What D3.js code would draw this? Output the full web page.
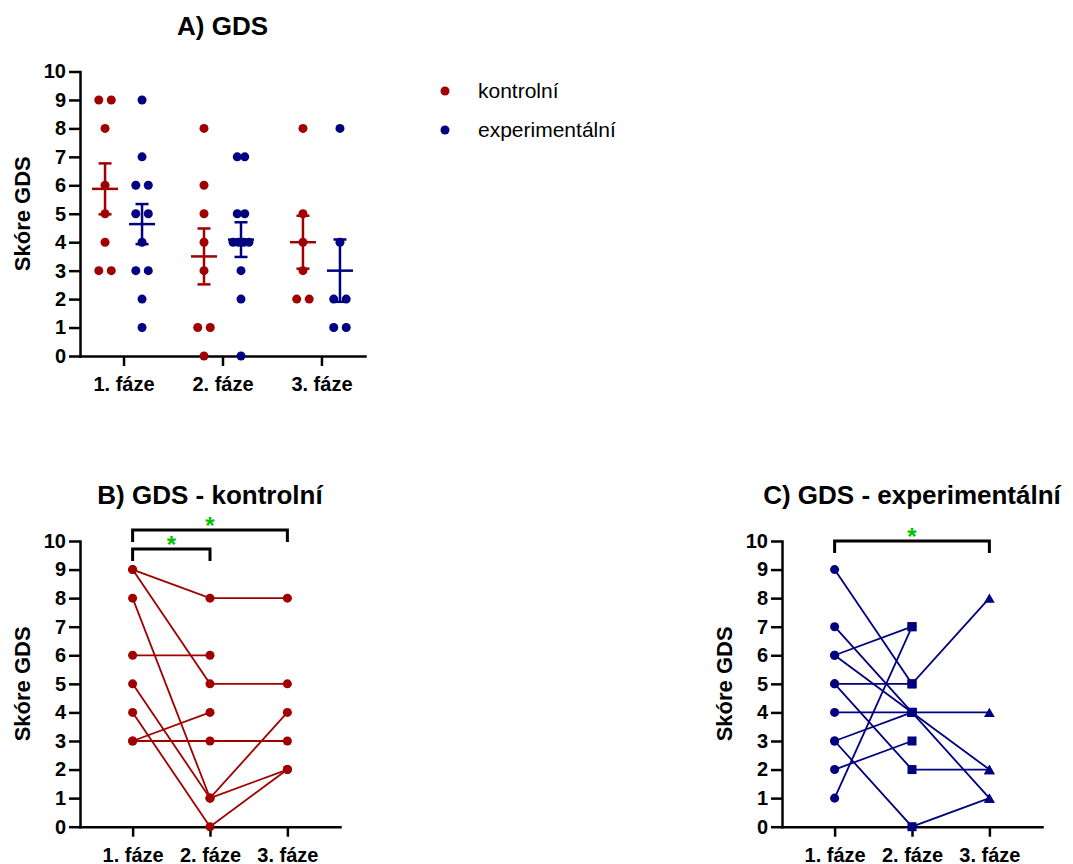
<!DOCTYPE html>
<meta charset="utf-8">
<style>
body { margin: 0; background: #fff; }
svg { font-family: "Liberation Sans", Arial, sans-serif; }
.axis text { font: bold 20px "Liberation Sans", Arial, sans-serif; fill: #000; }
.axis line, .axis path { fill: none; stroke: #000; stroke-width: 2.5; }
.axis .domain { stroke-linecap: square; }
.title { font-weight: bold; font-size: 26px; }
.ylabel { font-weight: bold; font-size: 22px; }
.legend text { font-size: 21px; }
.star { fill: #00c000; font-weight: bold; font-size: 24px; }
.bracket { fill: none; stroke: #000; stroke-width: 3; }
</style>
<body>
<script src="https://cdn.jsdelivr.net/npm/d3@7"></script>
<script>

var phases = ["1. fáze", "2. fáze", "3. fáze"];
var groups = ["kontrolní", "experimentální"];
var yTicks = [0, 1, 2, 3, 4, 5, 6, 7, 8, 9, 10];

// skóre každého účastníka ve fázi 1, 2, 3 (null = chybí)
var kontrolni = [
  [9, 8, 8], [9, 5, 5], [8, 1, 4], [6, 6, null],
  [5, 1, 2], [4, 0, 2], [3, 4, null], [3, 3, 3]
];
var experimentalni = [
  [9, 5, 8], [7, 4, 1], [6, 7, null], [6, 4, 2], [5, 5, null], [5, 2, 2],
  [4, 4, 4], [3, 4, null], [3, 0, 1], [2, 3, null], [1, 7, null]
];

// signifikantní rozdíly (index fáze od - do)
var sigKontrolni = [[0, 1], [0, 2]];
var sigExperimentalni = [[0, 2]];

var color = d3.scaleOrdinal().domain(groups).range(["#a00000", "#000080"]);
var dataByGroup = { "kontrolní": kontrolni, "experimentální": experimentalni };

var svg = d3.select("body").append("svg")
    .attr("width", 1073)
    .attr("height", 864);

function makeAxes(x, y, title) {
  var x0 = x.range()[0], x1 = x.range()[1];

  svg.append("g")
      .attr("class", "axis")
      .attr("transform", "translate(" + x0 + ",0)")
      .call(d3.axisLeft(y).tickValues(yTicks).tickSize(11).tickSizeOuter(0).tickPadding(3));

  svg.append("g")
      .attr("class", "axis")
      .attr("transform", "translate(0," + y(0) + ")")
      .call(d3.axisBottom(x).tickSize(10).tickSizeOuter(0).tickPadding(11));

  svg.append("text")
      .attr("class", "ylabel")
      .attr("text-anchor", "middle")
      .attr("transform", "translate(" + (x0 - 50) + "," + (y(0) + y(10)) / 2 + ") rotate(-90)")
      .text("Skóre GDS");

  svg.append("text")
      .attr("class", "title")
      .attr("text-anchor", "middle")
      .attr("x", (x0 + x1) / 2)
      .attr("y", y(10) - 37)
      .text(title);
}

// ---- A) GDS : bodový graf s průměrem a SEM ----
(function() {
  var x = d3.scalePoint().domain(phases).range([80, 365]).padding(0.44);
  var y = d3.scaleLinear().domain([0, 10]).range([356, 71.5]);
  var offset = d3.scalePoint().domain(groups).range([-18.5, 18.5]);

  makeAxes(x, y, "A) GDS");

  groups.forEach(function(g) {
    var subjects = dataByGroup[g];
    phases.forEach(function(p, i) {
      var vals = subjects.map(function(s) { return s[i]; })
          .filter(function(v) { return v != null; });
      var cx = x(p) + offset(g);
      var counts = d3.rollup(vals, function(v) { return v.length; }, function(v) { return v; });
      var dense = d3.max(counts.values()) > 2;

      var pts = [];
      counts.forEach(function(n, v) {
        var step = n === 1 ? 0 : (dense ? (n > 2 ? 5.3 : 7.5) : 12.5);
        for (var k = 0; k < n; k++) pts.push({ v: v, dx: (k - (n - 1) / 2) * step });
      });

      svg.append("g").selectAll("circle")
          .data(pts)
        .enter().append("circle")
          .attr("cx", function(d) { return cx + d.dx; })
          .attr("cy", function(d) { return y(d.v); })
          .attr("r", 4.5)
          .attr("fill", color(g));

      var m = d3.mean(vals);
      var sem = d3.deviation(vals) / Math.sqrt(vals.length);
      var eb = svg.append("g")
          .attr("stroke", color(g))
          .attr("stroke-width", 2.5)
          .attr("fill", "none");
      eb.append("line").attr("x1", cx - 13).attr("x2", cx + 13).attr("y1", y(m)).attr("y2", y(m));
      eb.append("line").attr("x1", cx).attr("x2", cx).attr("y1", y(m - sem)).attr("y2", y(m + sem));
      eb.append("line").attr("x1", cx - 6.5).attr("x2", cx + 6.5).attr("y1", y(m + sem)).attr("y2", y(m + sem));
      eb.append("line").attr("x1", cx - 6.5).attr("x2", cx + 6.5).attr("y1", y(m - sem)).attr("y2", y(m - sem));
    });
  });

  var legend = svg.append("g").attr("class", "legend");
  groups.forEach(function(g, i) {
    var row = legend.append("g").attr("transform", "translate(445," + (91 + i * 39) + ")");
    row.append("circle").attr("r", 4.5).attr("fill", color(g));
    row.append("text").attr("x", 33).attr("y", 7).text(g);
  });
})();

// ---- B) a C) : párová data ----
function drawPaired(group, title, xRange, sig, bracketY, symbols) {
  var subjects = dataByGroup[group];
  var x = d3.scalePoint().domain(phases).range(xRange).padding(0.68);
  var y = d3.scaleLinear().domain([0, 10]).range([826.7, 541]);

  makeAxes(x, y, title);

  var line = d3.line()
      .defined(function(v) { return v != null; })
      .x(function(v, i) { return x(phases[i]); })
      .y(function(v) { return y(v); });

  svg.append("g").selectAll("path")
      .data(subjects)
    .enter().append("path")
      .attr("d", line)
      .attr("fill", "none")
      .attr("stroke", color(group))
      .attr("stroke-width", 1.8);

  phases.forEach(function(p, i) {
    var sym = symbols[i];
    var vals = subjects.map(function(s) { return s[i]; })
        .filter(function(v) { return v != null; });
    svg.append("g").selectAll("path")
        .data(vals)
      .enter().append("path")
        .attr("d", d3.symbol().type(sym.type).size(sym.size))
        .attr("transform", function(v) { return "translate(" + x(p) + "," + (y(v) + sym.dy) + ")"; })
        .attr("fill", color(group));
  });

  sig.forEach(function(s, k) {
    var by = bracketY[k];
    var xa = x(phases[s[0]]), xb = x(phases[s[1]]);
    svg.append("path")
        .attr("class", "bracket")
        .attr("d", "M" + xa + "," + (by + 12) + "V" + by + "H" + xb + "V" + (by + 12));
    svg.append("text")
        .attr("class", "star")
        .attr("text-anchor", "middle")
        .attr("x", (xa + xb) / 2)
        .attr("y", by + 4)
        .text("*");
  });
}

var circleSym = { type: d3.symbolCircle, size: 64, dy: 0 };
var squareSym = { type: d3.symbolSquare, size: 81, dy: 0 };
var triangleSym = { type: d3.symbolTriangle, size: 50, dy: 1.5 };

drawPaired("kontrolní", "B) GDS - kontrolní", [80, 340], sigKontrolni, [549, 530],
  [circleSym, circleSym, circleSym]);
drawPaired("experimentální", "C) GDS - experimentální", [782, 1042], sigExperimentalni, [541],
  [circleSym, squareSym, triangleSym]);

</script>
</body>
